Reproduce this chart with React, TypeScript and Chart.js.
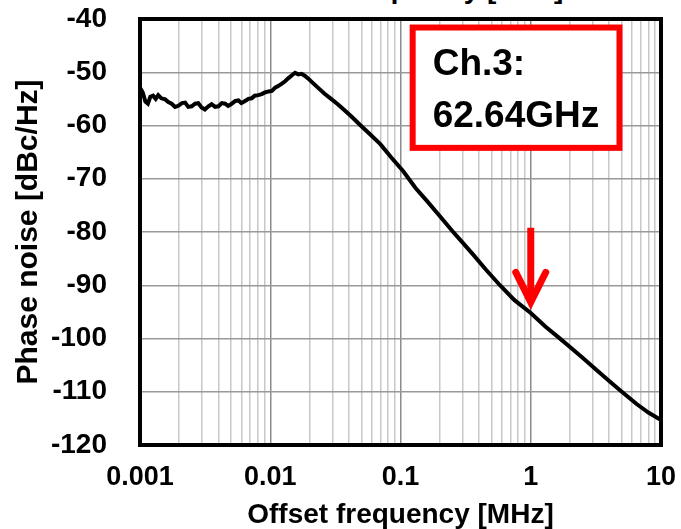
import React, { useEffect, useRef } from "react";
import { Chart, registerables } from "chart.js";

Chart.register(...registerables);

// ---- Data ----
const freqMHz = [
  0.001, 0.00105, 0.0011, 0.00115, 0.0012, 0.00126, 0.00132, 0.00138, 0.00146, 0.00156,
  0.00165, 0.00175, 0.00186, 0.00197, 0.0021, 0.00222, 0.00235, 0.00249, 0.00265, 0.0028,
  0.00297, 0.00315, 0.00335, 0.00355, 0.00377, 0.004, 0.00425, 0.0045, 0.00475, 0.005,
  0.0054, 0.0057, 0.006, 0.0064, 0.0068, 0.0072, 0.0076, 0.0081, 0.0086, 0.0091,
  0.0097, 0.0103, 0.0109, 0.0115, 0.0122, 0.013, 0.0138, 0.0146, 0.0155, 0.0164,
  0.0174, 0.0185, 0.0196, 0.021, 0.023, 0.026, 0.029, 0.033, 0.037, 0.042,
  0.049, 0.057, 0.07, 0.085, 0.105, 0.13, 0.16, 0.2, 0.25, 0.3,
  0.36, 0.45, 0.58, 0.75, 1.0, 1.3, 1.6, 2.0, 2.5, 3.2,
  4.0, 5.0, 6.5, 8.0, 10,
];
const phaseNoiseDbc = [
  -52.9, -53.8, -55.5, -55.9, -54.6, -54.4, -55.0, -54.3, -54.9, -55.1,
  -55.6, -55.9, -56.5, -56.3, -55.8, -55.7, -56.5, -56.4, -55.9, -55.8,
  -56.6, -57.0, -56.4, -56.0, -56.5, -56.4, -55.8, -55.9, -56.3, -56.0,
  -55.4, -55.3, -55.8, -55.4, -55.0, -54.9, -54.4, -54.3, -54.1, -53.8,
  -53.6, -53.5, -52.9, -52.6, -52.2, -51.7, -51.1, -50.6, -50.1, -50.4,
  -50.3, -50.7, -51.2, -51.9, -52.8, -54.0, -54.9, -56.0, -57.1, -58.3,
  -59.9, -61.4, -63.5, -66.0, -68.6, -71.7, -74.2, -77.0, -79.8, -82.0,
  -84.2, -87.0, -90.0, -92.8, -95.2, -97.8, -99.6, -101.6, -103.6, -105.9,
  -108.0, -110.0, -112.3, -113.9, -115.3,
];
const xDecades = [0.001, 0.01, 0.1, 1, 10];
const yMin = -120;
const yMax = -40;
const yStep = 10;

const xTitle = "Offset frequency [MHz]";
const yTitle = "Phase noise [dBc/Hz]";

const boxLines = ["Ch.3:", "62.64GHz"];
const boxX = [0.124, 4.8];
const boxY = [-41.6, -64.2];
const arrowX = 1;
const arrowY = [-79.2, -93.2];

const FONT = "'Liberation Sans', Arial, sans-serif";

const isDecade = (v: number) => Math.abs(Math.log10(v) - Math.round(Math.log10(v))) < 1e-6;

const overlayPlugin = {
  id: "overlay",
  afterDatasetsDraw(chart: any) {
    const { ctx, chartArea, scales } = chart;
    const x = scales.x;
    const y = scales.y;
    ctx.save();
    // frame
    ctx.strokeStyle = "#000";
    ctx.lineWidth = 4;
    ctx.strokeRect(chartArea.left, chartArea.top, chartArea.right - chartArea.left, chartArea.bottom - chartArea.top);

    // label box
    const bx0 = x.getPixelForValue(boxX[0]);
    const bx1 = x.getPixelForValue(boxX[1]);
    const by0 = y.getPixelForValue(boxY[0]);
    const by1 = y.getPixelForValue(boxY[1]);
    ctx.fillStyle = "#fff";
    ctx.fillRect(bx0, by0, bx1 - bx0, by1 - by0);
    ctx.strokeStyle = "#ff0000";
    ctx.lineWidth = 6;
    ctx.strokeRect(bx0, by0, bx1 - bx0, by1 - by0);
    ctx.fillStyle = "#000";
    ctx.font = `bold 37px ${FONT}`;
    ctx.textAlign = "left";
    ctx.textBaseline = "alphabetic";
    ctx.fillText(boxLines[0], bx0 + 20, by0 + 47);
    ctx.fillText(boxLines[1], bx0 + 20, by0 + 99);

    // arrow
    const ax = x.getPixelForValue(arrowX);
    const ay0 = y.getPixelForValue(arrowY[0]);
    const ay1 = y.getPixelForValue(arrowY[1]);
    ctx.strokeStyle = "#ff0000";
    ctx.lineWidth = 7;
    ctx.lineCap = "butt";
    ctx.beginPath();
    ctx.moveTo(ax, ay0);
    ctx.lineTo(ax, ay1 - 4);
    ctx.stroke();
    ctx.lineCap = "round";
    ctx.lineJoin = "miter";
    ctx.beginPath();
    ctx.moveTo(ax - 15, ay1 - 30);
    ctx.lineTo(ax, ay1);
    ctx.lineTo(ax + 15, ay1 - 30);
    ctx.stroke();
    ctx.restore();
  },
};

export default function App() {
  const canvasRef = useRef<HTMLCanvasElement | null>(null);

  useEffect(() => {
    const canvas = canvasRef.current;
    if (!canvas) return;
    const chart = new Chart(canvas, {
      type: "line",
      data: {
        datasets: [
          {
            data: freqMHz.map((f, i) => ({ x: f, y: phaseNoiseDbc[i] })),
            borderColor: "#000",
            borderWidth: 4,
            pointRadius: 0,
            tension: 0,
            fill: false,
          },
        ],
      },
      options: {
        animation: false,
        responsive: false,
        maintainAspectRatio: false,
        layout: { padding: { top: 19, right: 20, bottom: 0, left: 0 } },
        plugins: { legend: { display: false }, tooltip: { enabled: false } },
        scales: {
          x: {
            type: "logarithmic",
            min: xDecades[0],
            max: xDecades[xDecades.length - 1],
            afterBuildTicks: (scale: any) => {
              const ticks: any[] = [];
              for (let d = 0; d < xDecades.length; d++) {
                const base = xDecades[d];
                if (d === xDecades.length - 1) {
                  ticks.push({ value: base });
                  break;
                }
                for (let m = 1; m <= 9; m++) {
                  ticks.push({ value: parseFloat((base * m).toPrecision(6)) });
                }
              }
              scale.ticks = ticks;
            },
            afterFit: (scale: any) => {
              scale.height = 84;
              scale.paddingLeft = 0;
              scale.paddingRight = 0;
            },
            border: { display: false },
            grid: {
              drawTicks: false,
              color: (ctx: any) => (ctx.tick && isDecade(ctx.tick.value) ? "#8c8c8c" : "#c8c8c8"),
              lineWidth: 1.5,
            },
            ticks: {
              autoSkip: false,
              maxRotation: 0,
              padding: 16,
              color: "#000",
              font: { family: FONT, size: 27, weight: "bold" },
              callback: (v: any) => {
                const n = Number(v);
                if (!isDecade(n)) return "";
                const idx = xDecades.findIndex((d) => Math.abs(d - n) / d < 1e-6);
                return idx >= 0 ? String(xDecades[idx]) : "";
              },
            },
            title: {
              display: true,
              text: xTitle,
              color: "#000",
              font: { family: FONT, size: 28, weight: "bold", lineHeight: 1 },
              padding: { top: 0, bottom: 0 },
            },
          },
          y: {
            min: yMin,
            max: yMax,
            afterFit: (scale: any) => {
              scale.width = 140;
              scale.paddingTop = 0;
              scale.paddingBottom = 0;
            },
            border: { display: false },
            grid: { drawTicks: false, color: "#999", lineWidth: 1.5 },
            ticks: {
              stepSize: yStep,
              padding: 33,
              color: "#000",
              font: { family: FONT, size: 28, weight: "bold" },
            },
            title: {
              display: true,
              text: yTitle,
              color: "#000",
              font: { family: FONT, size: 30, weight: "bold", lineHeight: 1 },
              padding: { top: 14, bottom: 0 },
            },
          },
        },
      },
      plugins: [overlayPlugin],
    } as any);
    return () => chart.destroy();
  }, []);

  return (
    <div style={{ position: "absolute", left: 0, top: 0, width: 681, height: 529, overflow: "hidden", background: "#fff" }}>
      <div
        style={{
          position: "absolute",
          left: 0,
          width: 820,
          top: -25,
          textAlign: "center",
          font: `bold 28px ${FONT}`,
          lineHeight: "28px",
          color: "#000",
          whiteSpace: "nowrap",
        }}
      >
        {xTitle}
      </div>
      <canvas ref={canvasRef} width={681} height={529} style={{ position: "absolute", left: 0, top: 0 }} />
    </div>
  );
}
